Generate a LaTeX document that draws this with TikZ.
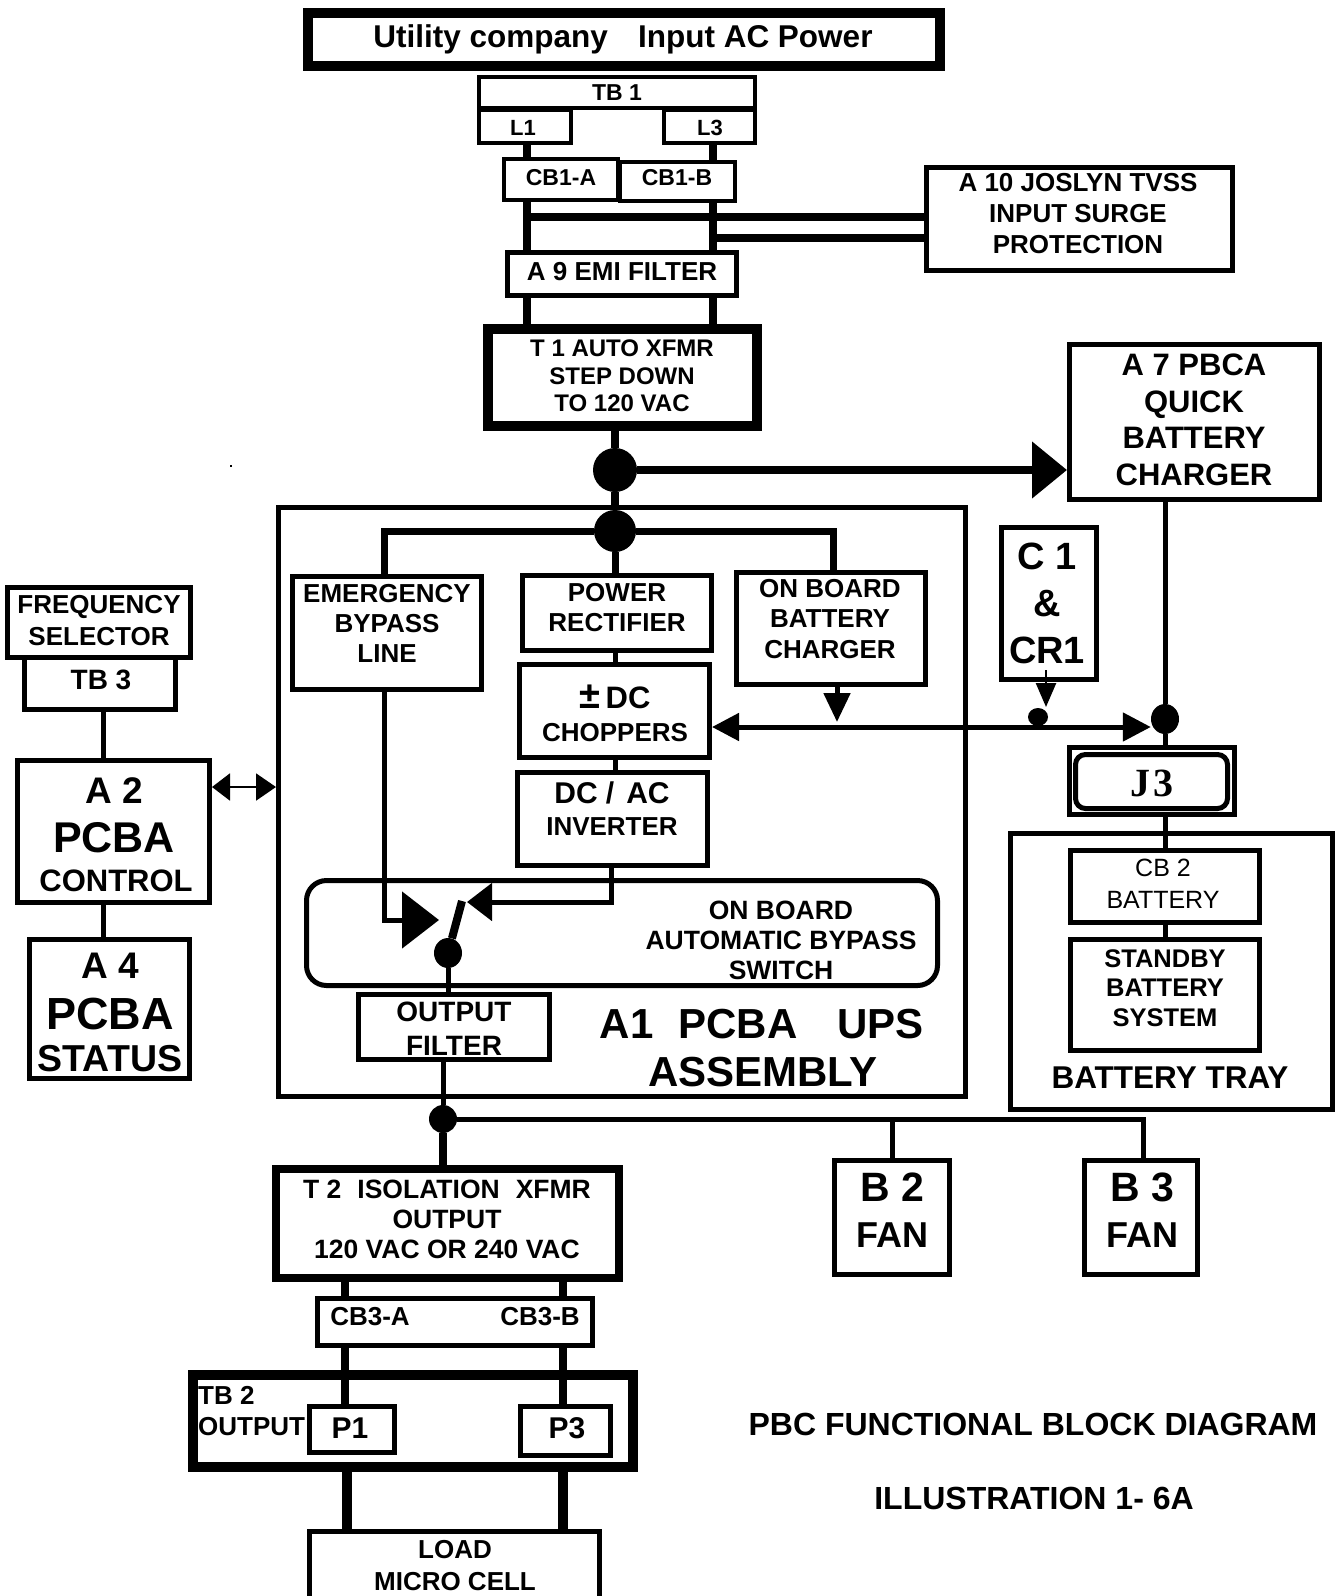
\documentclass[tikz,border=0pt]{standalone}
\usepackage{fontspec}
\setmainfont{Liberation Sans}
\newfontfamily\jfont{Liberation Serif}
\usetikzlibrary{arrows.meta,shapes.geometric}
\begin{document}
\begin{tikzpicture}[x=1pt,y=-1pt,
  bx/.style={draw, inner sep=0pt, line width=5pt},
  tx/.style 2 args={inner sep=0pt, align=center, font=\bfseries\fontsize{#1}{#2}\selectfont},
  txr/.style 2 args={inner sep=0pt, align=center, font=\fontsize{#1}{#2}\selectfont},
  jdot/.style={ellipse, fill, draw=none, inner sep=0pt},
  heavy/.style={line width=8pt},
  medium/.style={line width=5pt},
  branch/.style={line width=7pt},
  fat/.style={line width=10pt},
  thinline/.style={line width=2.5pt}
]
\useasboundingbox (0,0) rectangle (1341,1596);
\fill (230,465) rectangle (232,467);

% ---------- boxes ----------
\node[bx, line width=10pt, minimum width=632pt, minimum height=53pt] (util) at (624,39.5) {};
\node[bx, line width=4pt, minimum width=276pt, minimum height=31pt] (tb1) at (617,92.5) {};
\node[bx, line width=4pt, minimum width=92pt, minimum height=33pt] (l1) at (525,126.5) {};
\node[bx, line width=4pt, minimum width=91pt, minimum height=33pt] (l3) at (709.5,126.5) {};
\node[bx, line width=4pt, minimum width=114pt, minimum height=41pt] (cb1a) at (561,179.5) {};
\node[bx, line width=4pt, minimum width=115pt, minimum height=39pt] (cb1b) at (677.5,181.5) {};
\node[bx, minimum width=229pt, minimum height=43pt] (a9) at (621.5,273.5) {};
\node[bx, minimum width=306pt, minimum height=103pt] (a10) at (1079,218.5) {};
\node[bx, line width=10pt, minimum width=269pt, minimum height=97pt] (t1) at (622.5,377.5) {};
\node[bx, minimum width=250pt, minimum height=155pt] (a7) at (1194.5,422) {};
\node[bx, minimum width=687pt, minimum height=589pt] (a1) at (622,802) {};
\node[bx, minimum width=189pt, minimum height=113pt] (emerg) at (387,632.5) {};
\node[bx, minimum width=189pt, minimum height=75pt] (rect) at (617,613) {};
\node[bx, minimum width=190pt, minimum height=93pt] (chop) at (614.5,711) {};
\node[bx, minimum width=190pt, minimum height=93pt] (inv) at (612.5,819) {};
\node[bx, minimum width=189pt, minimum height=112pt] (obc) at (831,628.5) {};
\node[bx, minimum width=95pt, minimum height=152pt] (c1) at (1049,603.5) {};
\node[bx, minimum width=165pt, minimum height=67pt] (j3o) at (1152,781) {};
\node[bx, rounded corners=10pt, minimum width=152pt, minimum height=54pt] (j3i) at (1151.5,781.5) {};
\node[bx, minimum width=322pt, minimum height=276pt] (tray) at (1171.5,971.5) {};
\node[bx, minimum width=189pt, minimum height=72pt] (cb2) at (1165,886.5) {};
\node[bx, minimum width=189pt, minimum height=111pt] (sbs) at (1165,995) {};
\node[bx, minimum width=183pt, minimum height=70pt] (freq) at (99,622.5) {};
\node[bx, minimum width=151pt, minimum height=52pt] (tb3) at (100,683.5) {};
\node[bx, minimum width=192pt, minimum height=142pt] (a2) at (113.5,831.5) {};
\node[bx, minimum width=160pt, minimum height=139pt] (a4) at (109.5,1009) {};
\node[bx, rounded corners=20pt, minimum width=631pt, minimum height=105pt] (sw) at (622,933) {};
\node[bx, minimum width=191pt, minimum height=65pt] (of) at (454,1027) {};
\node[bx, line width=8pt, minimum width=343pt, minimum height=109pt] (t2) at (447.5,1223.5) {};
\node[bx, minimum width=275pt, minimum height=47pt] (cb3) at (455,1322) {};
\node[bx, line width=10pt, minimum width=440pt, minimum height=92pt] (tb2) at (413,1421) {};
\node[bx, minimum width=85pt, minimum height=46pt] (p1) at (352,1429.5) {};
\node[bx, minimum width=90pt, minimum height=49pt] (p3) at (565.5,1431) {};
\node[bx, minimum width=290pt, minimum height=78.5pt] (load) at (454.5,1570.75) {};
\node[bx, minimum width=115pt, minimum height=114pt] (b2) at (892,1217.5) {};
\node[bx, minimum width=113pt, minimum height=114pt] (b3) at (1141,1217.5) {};

% ---------- junction dots ----------
\node[jdot, minimum width=44pt, minimum height=44pt] (d1) at (615,470) {};
\node[jdot, minimum width=42pt, minimum height=42pt] (d2) at (615,531) {};
\node[jdot, minimum width=28pt, minimum height=30pt] (dj3) at (1165,719) {};
\node[jdot, minimum width=20pt, minimum height=18pt] (ds) at (1038,717) {};
\node[jdot, minimum width=28pt, minimum height=30pt] (dsw) at (448,953) {};
\node[jdot, minimum width=28pt, minimum height=28pt] (d4) at (443,1119) {};

% ---------- helper coordinates ----------
\coordinate (xa) at (527,0);
\coordinate (xb) at (713,0);
\coordinate (ya) at (0,217);
\coordinate (yb) at (0,238);
\coordinate (xe) at (384,0);
\coordinate (xo) at (833,0);
\coordinate (xo2) at (837,0);
\coordinate (xi) at (611,0);
\coordinate (bus) at (0,727);
\coordinate (swL) at (439,920);
\coordinate (swR) at (467,902);
\coordinate (blade) at (462,901);
\coordinate (obctip) at (837,722);
\coordinate (c1a) at (1046,670);
\coordinate (c1b) at (1046,707);
\coordinate (xl) at (103,0);
\coordinate (ya2) at (0,787);
\coordinate (xb3) at (1143,0);
\coordinate (xp1) at (345,0);
\coordinate (xp3) at (563,0);
\coordinate (xl1) at (347,0);

% ---------- connectors ----------
\draw[heavy] (xa |- l1.south) -- (xa |- cb1a.north);
\draw[heavy] (xb |- l3.south) -- (xb |- cb1b.north);
\draw[heavy] (xa |- cb1a.south) -- (xa |- a9.north);
\draw[heavy] (xb |- cb1b.south) -- (xb |- a9.north);
\draw[heavy] (xa |- ya) -- (a10.west |- ya);
\draw[heavy] (xb |- yb) -- (a10.west |- yb);
\draw[heavy] (xa |- a9.south) -- (xa |- t1.north);
\draw[heavy] (xb |- a9.south) -- (xb |- t1.north);
\draw[heavy] (d1 |- t1.south) -- (d1);
\draw[heavy, -{Triangle[length=35pt,width=55pt]}] (d1) -- (d1 -| a7.west);
\draw[heavy] (d1) -- (d2);
\draw[branch] (d2) -- (xe |- d2) -- (xe |- emerg.north);
\draw[branch] (d2) -- (xo |- d2) -- (xo |- obc.north);
\draw[branch] (d2) -- (d2 |- rect.north);
\draw[medium] (d2 |- rect.south) -- (d2 |- chop.north);
\draw[medium] (d2 |- chop.south) -- (d2 |- inv.north);
\draw[medium, -{Triangle[length=37pt,width=56pt]}] (xe |- emerg.south) -- (xe |- swL) -- (swL);
\draw[medium, -{Triangle[length=25pt,width=37pt]}] (xi |- inv.south) -- (xi |- swR) -- (swR);
\draw[heavy] (dsw) -- (blade);
\draw[medium] (dsw) -- (dsw |- of.north);
\draw[medium, -{Triangle[length=29pt,width=26pt]}] (xo2 |- obc.south) -- (obctip);
\draw[medium, {Triangle[length=27pt,width=27pt]}-{Triangle[length=28pt,width=28pt]}] (chop.east |- bus) -- (dj3.west |- bus);
\draw[thinline, -{Triangle[length=24pt,width=20pt]}] (c1a) -- (c1b);
\draw[medium] (dj3 |- a7.south) -- (dj3);
\draw[medium] (dj3) -- (dj3 |- j3o.north);
\draw[medium] (dj3 |- j3o.south) -- (dj3 |- cb2.north);
\draw[medium] (cb2.south) -- (sbs.north);
\draw[medium] (xl |- tb3.south) -- (xl |- a2.north);
\draw[medium] (xl |- a2.south) -- (xl |- a4.north);
\draw[line width=2pt, {Triangle[length=18pt,width=27pt]}-{Triangle[length=20pt,width=27pt]}] (a2.east |- ya2) -- (a1.west |- ya2);
\draw[medium] (d4 |- of.south) -- (d4);
\draw[heavy] (d4) -- (d4 |- t2.north);
\draw[medium] (d4) -- (xb3 |- d4) -- (xb3 |- b3.north);
\draw[medium] (b2 |- d4) -- (b2.north);
\draw[heavy] (xp1 |- t2.south) -- (xp1 |- cb3.north);
\draw[heavy] (xp3 |- t2.south) -- (xp3 |- cb3.north);
\draw[heavy] (xp1 |- cb3.south) -- (xp1 |- p1.north);
\draw[heavy] (xp3 |- cb3.south) -- (xp3 |- p3.north);
\draw[fat] (xl1 |- tb2.south) -- (xl1 |- load.north);
\draw[fat] (xp3 |- tb2.south) -- (xp3 |- load.north);

% ---------- texts ----------
\node[tx={31.5pt}{36pt}, anchor=base] (t-util) at (623,47) {Utility company\hspace{30pt}Input AC Power};
\node[tx={23pt}{27pt}] (t-tb1) at (617,93) {TB 1};
\node[tx={22pt}{26pt}] (t-l1) at (523,128) {L1};
\node[tx={22pt}{26pt}] (t-l3) at (710,128) {L3};
\node[tx={23pt}{27pt}] (t-cb1a) at (561,178) {CB1-A};
\node[tx={23pt}{27pt}] (t-cb1b) at (677,178) {CB1-B};
\node[tx={26pt}{30pt}] (t-a9) at (622,272) {A 9 EMI FILTER};
\node[tx={26pt}{31pt}] (t-a10) at (1078,214) {A 10 JOSLYN TVSS\\INPUT SURGE\\PROTECTION};
\node[tx={24pt}{27.5pt}] (t-t1) at (622,376) {T 1 AUTO XFMR\\STEP DOWN\\TO 120 VAC};
\node[tx={31pt}{36.5pt}] (t-a7) at (1194,420) {A 7 PBCA\\QUICK\\BATTERY\\CHARGER};
\node[tx={26pt}{30pt}] (t-em) at (387,623) {EMERGENCY\\BYPASS\\LINE};
\node[tx={26pt}{30pt}] (t-rect) at (617,608) {POWER\\RECTIFIER};
\node[tx={31pt}{35pt}] (t-chop1) at (615,697) {{\fontsize{38pt}{38pt}\selectfont ±}\,DC};
\node[tx={26pt}{30pt}] (t-chop2) at (615,733) {CHOPPERS};
\node[tx={30pt}{34pt}] (t-inv1) at (612,793) {DC /\hspace{12pt}AC};
\node[tx={26pt}{30pt}] (t-inv2) at (612,827) {INVERTER};
\node[tx={26pt}{30.5pt}] (t-obc) at (830,619) {ON BOARD\\BATTERY\\CHARGER};
\node[tx={38pt}{47pt}] (t-c1) at (1047,603) {C 1\\\&\\CR1};
\node[inner sep=0pt, font=\jfont\bfseries\fontsize{40pt}{44pt}\selectfont] (t-j3) at (1152,783) {J\kern3pt 3};
\node[txr={25pt}{32pt}] (t-cb2) at (1163,884) {CB 2\\BATTERY};
\node[tx={25.5pt}{29.5pt}] (t-sbs) at (1165,988) {STANDBY\\BATTERY\\SYSTEM};
\node[tx={31.5pt}{36pt}] (t-tray) at (1170,1078) {BATTERY TRAY};
\node[tx={26pt}{32pt}] (t-freq) at (99,621) {FREQUENCY\\SELECTOR};
\node[tx={28pt}{32pt}] (t-tb3) at (101,680) {TB 3};
\node[tx={37pt}{40pt}] (t-a2a) at (114,791) {A 2};
\node[tx={43pt}{46pt}] (t-a2b) at (114,838) {PCBA};
\node[tx={31pt}{34pt}] (t-a2c) at (116,881) {CONTROL};
\node[tx={37pt}{40pt}] (t-a4a) at (110,966) {A 4};
\node[tx={45pt}{48pt}] (t-a4b) at (110,1014) {PCBA};
\node[tx={37.5pt}{40pt}] (t-a4c) at (110,1059) {STATUS};
\node[tx={26.5pt}{30pt}] (t-sw) at (781,940) {ON BOARD\\AUTOMATIC BYPASS\\SWITCH};
\node[tx={28pt}{34pt}] (t-of) at (454,1029) {OUTPUT\\FILTER};
\node[tx={42pt}{48pt}] (t-ups1) at (762,1024) {A1\hspace{25pt}PCBA\hspace{40pt}UPS};
\node[tx={42pt}{48pt}] (t-ups2) at (763,1072) {ASSEMBLY};
\node[tx={26.5pt}{30pt}] (t-t2) at (447,1219) {T 2\hspace{16pt}ISOLATION\hspace{16pt}XFMR\\OUTPUT\\120 VAC OR 240 VAC};
\node[tx={26pt}{30pt}] (t-cb3a) at (370,1317) {CB3-A};
\node[tx={26pt}{30pt}] (t-cb3b) at (540,1317) {CB3-B};
\node[tx={26pt}{30pt}, anchor=west] (t-tb2a) at (198,1395) {TB 2};
\node[tx={26pt}{30pt}, anchor=west] (t-tb2b) at (198,1427) {OUTPUT};
\node[tx={30pt}{34pt}] (t-p1) at (350,1428) {P1};
\node[tx={30pt}{34pt}] (t-p3) at (567,1428) {P3};
\node[tx={26pt}{32pt}] (t-load) at (455,1566) {LOAD\\MICRO CELL};
\node[tx={41pt}{44pt}] (t-b2a) at (892,1187) {B 2};
\node[tx={36pt}{40pt}] (t-b2b) at (892,1235) {FAN};
\node[tx={41pt}{44pt}] (t-b3a) at (1142,1187) {B 3};
\node[tx={36pt}{40pt}] (t-b3b) at (1142,1235) {FAN};
\node[tx={32pt}{36pt}] (t-title) at (1033,1424) {PBC FUNCTIONAL BLOCK DIAGRAM};
\node[tx={32pt}{36pt}] (t-ill) at (1034,1498) {ILLUSTRATION 1- 6A};
\end{tikzpicture}
\end{document}
